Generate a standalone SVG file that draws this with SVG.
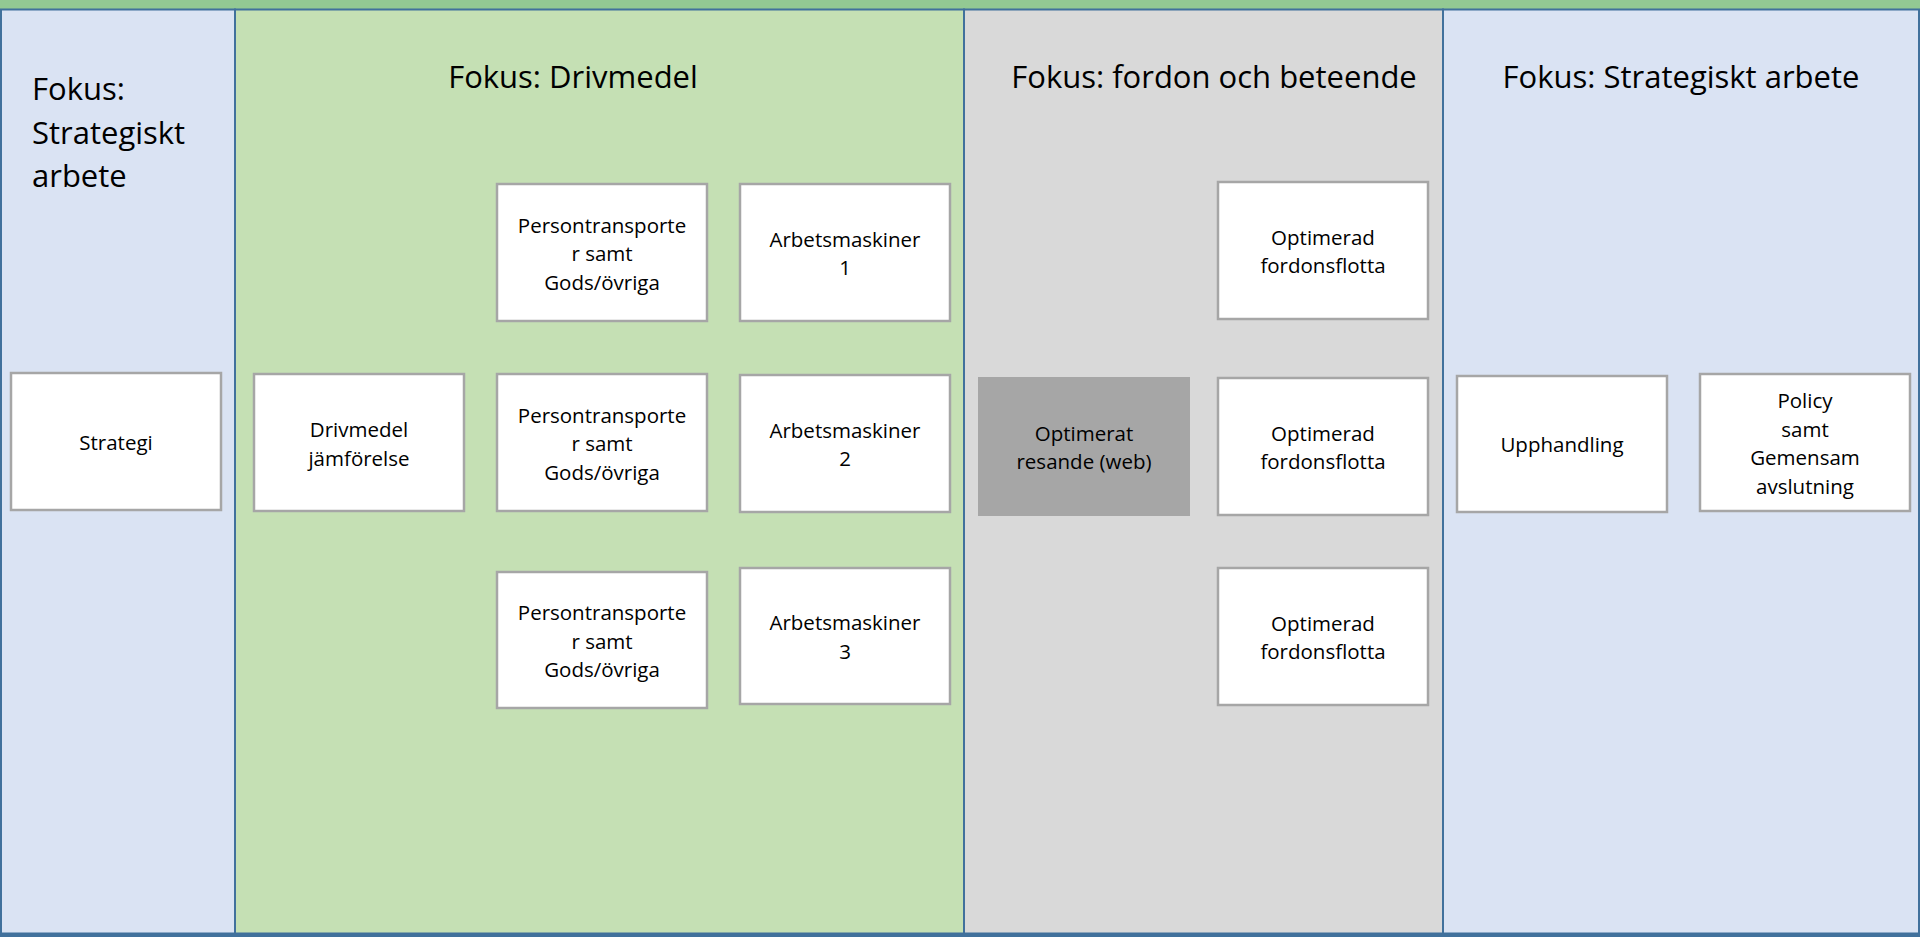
<svg xmlns="http://www.w3.org/2000/svg" width="1920" height="937" viewBox="0 0 1920 937">
<style>
.panel{stroke:#41719c;stroke-width:2}
.blue{fill:#dae3f3}
.green{fill:#c5e0b4}
.gray{fill:#d9d9d9}
.box{fill:#ffffff;stroke:#a6a6a6;stroke-width:2.5}
.dark{fill:#a6a6a6;stroke:none}
.t{font-family:"Open Sans","Noto Sans","Liberation Sans",sans-serif;fill:#000000}
.title{font-size:31px}
.lbl{font-size:20.5px;text-anchor:middle}
</style>
<rect x="0" y="0" width="1920" height="9" fill="#93c993"/>
<g id="panels">
<g id="panel-strategi-left">
<rect class="panel blue" x="1" y="9.5" width="234" height="924"/>
<text class="t title" x="32" y="100">Fokus:</text>
<text class="t title" x="32" y="144">Strategiskt</text>
<text class="t title" x="32" y="187">arbete</text>
</g>
<g id="panel-drivmedel">
<rect class="panel green" x="235" y="9.5" width="729" height="924"/>
<text class="t title" x="573" y="88" text-anchor="middle">Fokus: Drivmedel</text>
</g>
<g id="panel-fordon">
<rect class="panel gray" x="964" y="9.5" width="479" height="924"/>
<text class="t title" x="1214" y="88" text-anchor="middle">Fokus: fordon och beteende</text>
</g>
<g id="panel-strategi-right">
<rect class="panel blue" x="1443" y="9.5" width="476" height="924"/>
<text class="t title" x="1681" y="88" text-anchor="middle">Fokus: Strategiskt arbete</text>
</g>
</g>
<rect x="0" y="933.5" width="1920" height="3.5" fill="#41719c"/>
<g id="connectors"></g>
<g id="node-strategi">
<rect class="box" x="11" y="373" width="210" height="137"/>
<text class="t lbl" x="116" y="450">Strategi</text>
</g>
<g id="node-drivmedel">
<rect class="box" x="254" y="374" width="210" height="137"/>
<text class="t lbl" x="359" y="437">Drivmedel</text>
<text class="t lbl" x="359" y="465.5">jämförelse</text>
</g>
<g id="node-person1">
<rect class="box" x="497" y="184" width="210" height="137"/>
<text class="t lbl" x="602" y="232.5">Persontransporte</text>
<text class="t lbl" x="602" y="261">r samt</text>
<text class="t lbl" x="602" y="289.5">Gods/övriga</text>
</g>
<g id="node-person2">
<rect class="box" x="497" y="374" width="210" height="137"/>
<text class="t lbl" x="602" y="422.5">Persontransporte</text>
<text class="t lbl" x="602" y="451">r samt</text>
<text class="t lbl" x="602" y="479.5">Gods/övriga</text>
</g>
<g id="node-person3">
<rect class="box" x="497" y="572" width="210" height="136"/>
<text class="t lbl" x="602" y="620">Persontransporte</text>
<text class="t lbl" x="602" y="648.5">r samt</text>
<text class="t lbl" x="602" y="677">Gods/övriga</text>
</g>
<g id="node-arbets1">
<rect class="box" x="740" y="184" width="210" height="137"/>
<text class="t lbl" x="845" y="246.5">Arbetsmaskiner</text>
<text class="t lbl" x="845" y="275">1</text>
</g>
<g id="node-arbets2">
<rect class="box" x="740" y="375" width="210" height="137"/>
<text class="t lbl" x="845" y="437.5">Arbetsmaskiner</text>
<text class="t lbl" x="845" y="466">2</text>
</g>
<g id="node-arbets3">
<rect class="box" x="740" y="568" width="210" height="136"/>
<text class="t lbl" x="845" y="630">Arbetsmaskiner</text>
<text class="t lbl" x="845" y="658.5">3</text>
</g>
<g id="node-resande">
<rect class="dark" x="978" y="377" width="212" height="139"/>
<text class="t lbl" x="1084" y="440.5">Optimerat</text>
<text class="t lbl" x="1084" y="469">resande (web)</text>
</g>
<g id="node-flotta1">
<rect class="box" x="1218" y="182" width="210" height="137"/>
<text class="t lbl" x="1323" y="244.5">Optimerad</text>
<text class="t lbl" x="1323" y="273">fordonsflotta</text>
</g>
<g id="node-flotta2">
<rect class="box" x="1218" y="378" width="210" height="137"/>
<text class="t lbl" x="1323" y="440.5">Optimerad</text>
<text class="t lbl" x="1323" y="469">fordonsflotta</text>
</g>
<g id="node-flotta3">
<rect class="box" x="1218" y="568" width="210" height="137"/>
<text class="t lbl" x="1323" y="630.5">Optimerad</text>
<text class="t lbl" x="1323" y="659">fordonsflotta</text>
</g>
<g id="node-upphandling">
<rect class="box" x="1457" y="376" width="210" height="136"/>
<text class="t lbl" x="1562" y="452">Upphandling</text>
</g>
<g id="node-policy">
<rect class="box" x="1700" y="374" width="210" height="137"/>
<text class="t lbl" x="1805" y="408">Policy</text>
<text class="t lbl" x="1805" y="436.5">samt</text>
<text class="t lbl" x="1805" y="465">Gemensam</text>
<text class="t lbl" x="1805" y="493.5">avslutning</text>
</g>
</svg>
